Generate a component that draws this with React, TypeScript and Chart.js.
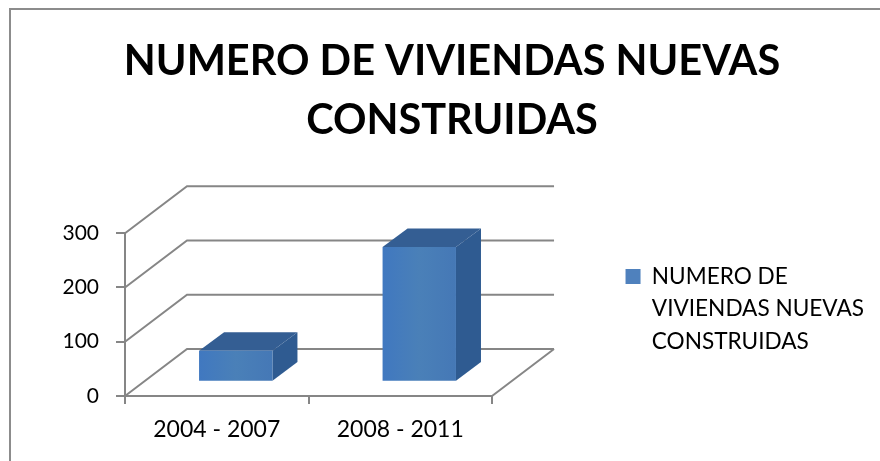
import React, { useEffect, useRef } from "react";
import { Chart, registerables } from "chart.js";

Chart.register(...registerables);

const categories = ["2004 - 2007", "2008 - 2011"];
const seriesName = "NUMERO DE VIVIENDAS NUEVAS CONSTRUIDAS";
const seriesValues = [57, 248];
const titleLines = ["NUMERO DE VIVIENDAS NUEVAS", "CONSTRUIDAS"];
const legendLines = ["NUMERO DE", "VIVIENDAS NUEVAS", "CONSTRUIDAS"];
const yTicks = [0, 100, 200, 300];

const FONT = "Lato, Carlito, sans-serif";
const WALL = { dx: 62, dy: -47 };
const BAR_SHIFT = { dx: 19, dy: -14.3 };
const BAR_DEPTH = { dx: 25, dy: -18.6 };
const LINE = "#868686";

const depthPlugin = {
  id: "depth",
  beforeDraw(chart: any) {
    const { ctx, width, height } = chart;
    ctx.save();
    ctx.strokeStyle = "#8c8c8c";
    ctx.lineWidth = 2;
    ctx.beginPath();
    ctx.moveTo(10, height);
    ctx.lineTo(10, 9);
    ctx.lineTo(width, 9);
    ctx.stroke();
    ctx.restore();
  },
  beforeDatasetsDraw(chart: any) {
    const { ctx, chartArea, scales } = chart;
    const { left, right, bottom } = chartArea;
    ctx.save();
    ctx.strokeStyle = LINE;
    ctx.lineWidth = 2;
    ctx.beginPath();
    for (const v of yTicks) {
      const y = scales.y.getPixelForValue(v);
      ctx.moveTo(left, y);
      ctx.lineTo(left + WALL.dx, y + WALL.dy);
      ctx.lineTo(right + WALL.dx, y + WALL.dy);
    }
    ctx.moveTo(right, bottom);
    ctx.lineTo(right + WALL.dx, bottom + WALL.dy);
    ctx.stroke();
    ctx.restore();
  },
  beforeDatasetDraw(chart: any, args: any) {
    const { ctx } = chart;
    ctx.save();
    ctx.translate(BAR_SHIFT.dx, BAR_SHIFT.dy);
    const meta = chart.getDatasetMeta(args.index);
    for (const el of meta.data) {
      const l = el.x - el.width / 2;
      const r = el.x + el.width / 2;
      const t = el.y;
      const b = el.base;
      ctx.fillStyle = "#2f5b91";
      ctx.beginPath();
      ctx.moveTo(r, t);
      ctx.lineTo(r + BAR_DEPTH.dx, t + BAR_DEPTH.dy);
      ctx.lineTo(r + BAR_DEPTH.dx, b + BAR_DEPTH.dy);
      ctx.lineTo(r, b);
      ctx.closePath();
      ctx.fill();
      ctx.fillStyle = "#345e93";
      ctx.beginPath();
      ctx.moveTo(l, t);
      ctx.lineTo(l + BAR_DEPTH.dx, t + BAR_DEPTH.dy);
      ctx.lineTo(r + BAR_DEPTH.dx, t + BAR_DEPTH.dy);
      ctx.lineTo(r, t);
      ctx.closePath();
      ctx.fill();
    }
  },
  afterDatasetDraw(chart: any) {
    chart.ctx.restore();
  },
};

export default function App() {
  const ref = useRef<HTMLCanvasElement | null>(null);
  useEffect(() => {
    const chart = new Chart(ref.current as HTMLCanvasElement, {
      type: "bar",
      data: {
        labels: categories,
        datasets: [
          {
            label: seriesName,
            data: seriesValues,
            clip: false,
            barPercentage: 0.4,
            categoryPercentage: 1,
            backgroundColor: (c: any) => {
              const sx = c.chart.scales?.x;
              if (!sx || c.dataIndex === undefined) return "#4a7ebb";
              const x = sx.getPixelForValue(c.dataIndex);
              const g = c.chart.ctx.createLinearGradient(x - 37, 0, x + 37, 0);
              g.addColorStop(0, "#4078c0");
              g.addColorStop(0.5, "#4a80b8");
              g.addColorStop(1, "#4578b6");
              return g;
            },
          } as any,
        ],
      },
      options: {
        animation: false,
        responsive: false,
        layout: { padding: { left: 30, right: 6, top: 0, bottom: 0 } },
        scales: {
          x: {
            afterFit: (s: any) => {
              s.height = 65;
            },
            grid: { drawOnChartArea: false, color: LINE, tickLength: 8, lineWidth: 2 },
            border: { color: LINE, width: 2 },
            ticks: { color: "#000", font: { family: FONT, size: 23 }, padding: 12 },
          },
          y: {
            min: 0,
            max: 300,
            afterFit: (s: any) => {
              s.width = 95;
            },
            afterBuildTicks: (s: any) => {
              s.ticks = yTicks.map((value) => ({ value }));
            },
            grid: { drawOnChartArea: false, color: LINE, tickLength: 9, lineWidth: 2 },
            border: { color: LINE, width: 2 },
            ticks: { color: "#000", font: { family: FONT, size: 21 }, padding: 17 },
          },
          gap: {
            type: "linear",
            position: "right",
            afterFit: (s: any) => {
              s.width = 101.5;
            },
            grid: { display: false },
            border: { display: false },
            ticks: { display: false },
          },
        },
        plugins: {
          tooltip: { enabled: false },
          title: {
            display: true,
            text: titleLines,
            color: "#000",
            font: { family: FONT, size: 41.5, weight: "bold", lineHeight: 1.4 },
            padding: { top: 33, bottom: 84 },
          },
          legend: {
            display: true,
            position: "right",
            align: "start",
            fullSize: false,
            maxWidth: 400,
            labels: {
              color: "#000",
              font: { family: FONT, size: 22.6, lineHeight: 1.44 },
              boxWidth: 15,
              boxHeight: 15,
              padding: 32,
              generateLabels: () => [
                {
                  text: legendLines as any,
                  fillStyle: "#4f81bd",
                  strokeStyle: "#4f81bd",
                  lineWidth: 0,
                  datasetIndex: 0,
                },
              ],
            },
          },
        },
      } as any,
      plugins: [depthPlugin],
    });
    return () => chart.destroy();
  }, []);
  return (
    <div style={{ position: "fixed", left: 0, top: 0, width: 880, height: 461, background: "#fff" }}>
      <canvas ref={ref} width={880} height={461} style={{ display: "block" }} />
    </div>
  );
}
